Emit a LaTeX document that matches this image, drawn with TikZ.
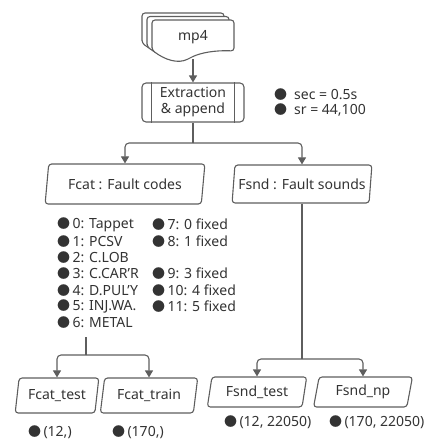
\documentclass[tikz,border=0pt]{standalone}
\usepackage{fontspec}
\setmainfont{Noto Sans}
\newfontfamily\bulfont{Noto Sans CJK KR}
\usepackage{tikz}
\usetikzlibrary{calc, positioning, arrows.meta, shapes.geometric}

\definecolor{linegray}{HTML}{5E5E5E}
\definecolor{textgray}{HTML}{333333}
\newcommand{\bul}{{\bulfont\fontsize{13}{14}\selectfont ●}}

\begin{document}
\begin{tikzpicture}[
            x=1pt, y=-1pt, % pixel-like grid, y grows downwards
            font=\fontsize{14}{16}\selectfont,
            text=textgray,
            data_style/.style={trapezium, trapezium left angle=76, trapezium right angle=104,
                    trapezium stretches=true, draw=linegray, line width=1.1pt,
                    rounded corners=3pt, inner sep=0pt, align=center},
            proc_style/.style={rectangle, draw=linegray, line width=1.1pt, rounded corners=4pt,
                    minimum width=102pt, minimum height=39pt, inner sep=0pt, align=center,
                    font=\fontsize{14}{16}\selectfont},
            sheet_style/.style={draw=linegray, line width=1.1pt, fill=white, rounded corners=3pt},
            edge_style/.style={-{Triangle[length=7pt, width=8pt]}, linegray, line width=1.1pt, rounded corners=4pt},
            line_style/.style={linegray, line width=1.1pt},
            item_style/.style={anchor=west, inner sep=0pt}
        ]
        \useasboundingbox (0,0) rectangle (429,439);

        % Input: stack of mp4 files
        \foreach \d in {10,5,0} {
                \draw[sheet_style, shift={(-\d,-0.7*\d)}] (152,50) -- (152,20) -- (234,20) -- (234,51)
                .. controls (215,50) and (200,53) .. (190,58)
                .. controls (178,64) and (165,60) .. (152,50) -- cycle;
            }
        \node (mp4) at (193,37) {mp4};
        \coordinate (mp4_bot) at (193,59);

        % Extraction step
        \node[proc_style] (extract) at (193,102.5) {Extraction\\\& append};
        \draw[line_style] ($(extract.north west)+(10,0)$) -- ($(extract.south west)+(10,0)$);
        \draw[line_style] ($(extract.north east)+(-10,0)$) -- ($(extract.south east)+(-10,0)$);
        \node[item_style] (sec) at (274,95) {\bul\hspace{7pt}sec = 0.5s};
        \node[item_style] (sr) at (274,110) {\bul\hspace{7pt}sr = 44,100};

        % Level 1 data
        \node[data_style, minimum width=160pt, minimum height=40pt] (fcat) at (125,184) {Fcat : Fault codes};
        \node[data_style, minimum width=140pt, minimum height=38pt] (fsnd) at (302,184) {Fsnd : Fault sounds};

        % Fault code list
        \foreach \txt [count=\i from 0] in {0: Tappet, 1: PCSV, 2: C.LOB, 3: C.CAR’R, 4: D.PUL’Y, 5: INJ.WA., 6: METAL} {
                \node[item_style] (code\i) at (57,{225+16.3*\i}) {\bul\,\txt};
            }
        \foreach \r/\txt in {0/7: 0 fixed, 1/8: 1 fixed, 3/9: 3 fixed, 4/10: 4 fixed, 5/11: 5 fixed} {
                \node[item_style] (fixed\r) at (152,{225+16.3*\r}) {\bul\,\txt};
            }

        % Level 2 data
        \node[data_style, minimum width=84pt, minimum height=35pt] (fcat_test) at (57,395.5) {Fcat\_test};
        \node[data_style, minimum width=98pt, minimum height=35pt] (fcat_train) at (149,395.5) {Fcat\_train};
        \node[data_style, minimum width=100pt, minimum height=30pt] (fsnd_test) at (257,392) {Fsnd\_test};
        \node[data_style, minimum width=99pt, minimum height=30pt] (fsnd_np) at (363,392) {Fsnd\_np};

        % Shapes
        \node[item_style] (shape_ct) at (28,432) {\bul\,(12,)};
        \node[item_style] (shape_cr) at (112,432) {\bul\,(170,)};
        \node[item_style] (shape_st) at (224,422) {\bul\,(12, 22050)};
        \node[item_style] (shape_sn) at (329,422) {\bul\,(170, 22050)};

        % Edges
        \coordinate (split_top) at (193,143);
        \coordinate (list_bot) at (86,337);
        \coordinate (split_left) at (86,355);
        \coordinate (split_right) at (302,359);

        \draw[edge_style] (mp4_bot) -- (extract);
        \draw[line_style] (extract) -- (split_top);
        \draw[edge_style] (split_top) -| (fcat);
        \draw[edge_style] (split_top) -| (fsnd);

        \draw[line_style] (list_bot) -- (split_left);
        \draw[edge_style] (split_left) -| (fcat_test);
        \draw[edge_style] (split_left) -| (fcat_train);

        \draw[line_style] (fsnd) -- (split_right);
        \draw[edge_style] (split_right) -| (fsnd_test);
        \draw[edge_style] (split_right) -| (fsnd_np);

    \end{tikzpicture}
\end{document}
